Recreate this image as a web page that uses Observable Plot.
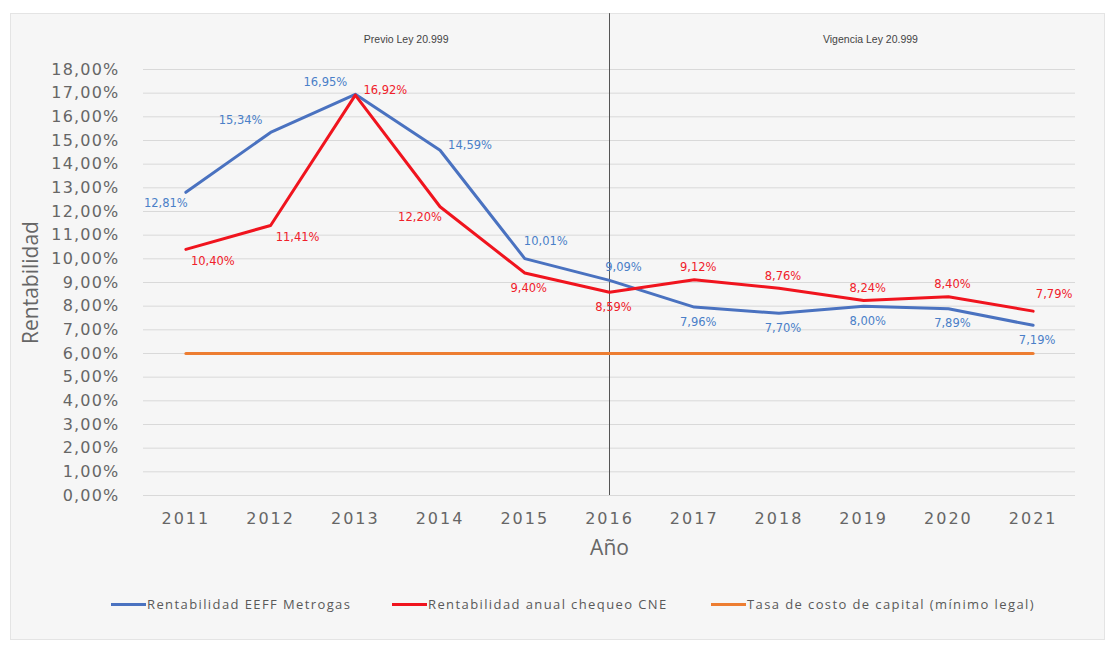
<!DOCTYPE html>
<html><head><meta charset="utf-8">
<script src="https://cdn.jsdelivr.net/npm/d3@7"></script>
<script src="https://cdn.jsdelivr.net/npm/@observablehq/plot@0.6"></script>
<style>
body{margin:0;background:#fff;font-family:"Open Sans",sans-serif;}
#panel{position:absolute;left:10px;top:13px;width:1095px;height:627px;background:#f6f6f6;border:1px solid #e4e4e4;box-sizing:border-box;}
#chart{position:absolute;left:0;top:0;}
#chart g[aria-label="y-axis tick label"] text{letter-spacing:1.2px;}
#chart g[aria-label="x-axis tick label"] text{letter-spacing:2px;}
#legend{position:absolute;top:594px;left:0;width:1114px;height:20px;}
.item{position:absolute;top:0;display:flex;align-items:center;height:20px;color:#595959;font-size:13px;letter-spacing:1.4px;white-space:nowrap;}
.sw{display:inline-block;width:35px;height:3px;margin-right:1px;}
</style></head>
<body>
<div id="panel"></div>
<div id="chart"></div>
<div id="legend"></div>
<script>
const years = [2011, 2012, 2013, 2014, 2015, 2016, 2017, 2018, 2019, 2020, 2021];
const metrogas = [12.81, 15.34, 16.95, 14.59, 10.01, 9.09, 7.96, 7.70, 8.00, 7.89, 7.19];
const cne = [10.40, 11.41, 16.92, 12.20, 9.40, 8.59, 9.12, 8.76, 8.24, 8.40, 7.79];
const capitalRate = [6, 6, 6, 6, 6, 6, 6, 6, 6, 6, 6];
const yTicks = d3.range(0, 19, 1);
const seriesNames = ["Rentabilidad EEFF Metrogas", "Rentabilidad anual chequeo CNE", "Tasa de costo de capital (mínimo legal)"];
const periodLabels = ["Previo Ley 20.999", "Vigencia Ley 20.999"];
const splitYear = 2016;

// label placement codes (where each value label sits relative to its point)
const metrogasPlace = ["bl", "tl", "tl", "r", "tr", "tr2", "b", "b", "b", "b", "b"];
const cnePlace = ["br", "br", "r", "bl", "b", "b", "t", "t", "t", "t", "tr"];
const offsets = {
  bl: [-20, 11], tl: [-30, -12], r: [30, -5], tr: [21, -17], tr2: [14, -13],
  b: [4, 15], br: [27, 12], t: [4, -12]
};

const colors = {blue: "#4a72c0", red: "#f0141e", orange: "#ed7d31"};
const fmt = v => v.toFixed(2).replace(".", ",") + "%";

const rows = (vals, place) => years.map((y, i) => ({year: y, v: vals[i], dx: offsets[place[i]][0], dy: offsets[place[i]][1]}));
const blueRows = rows(metrogas, metrogasPlace);
const redRows = rows(cne, cnePlace);
const orangeRows = years.map((y, i) => ({year: y, v: capitalRate[i]}));

const labelMarks = (data, fill) => {
  const groups = d3.groups(data, d => d.dx + "," + d.dy);
  return groups.map(([k, g]) => Plot.text(g, {
    x: "year", y: "v", text: d => fmt(d.v), fill, dx: g[0].dx, dy: g[0].dy,
    fontSize: 11.5, fontFamily: "DejaVu Sans", letterSpacing: "0.4px"
  }));
};

const chart = Plot.plot({
  width: 1114, height: 580,
  marginLeft: 143, marginRight: 39, marginTop: 69, marginBottom: 85,
  style: {background: "transparent", fontFamily: "DejaVu Sans", color: "#666"},
  x: {domain: [2010.5, 2021.5], ticks: years, tickFormat: d => String(d)},
  y: {domain: [0, 18], ticks: yTicks, tickFormat: fmt},
  marks: [
    Plot.ruleY(yTicks, {stroke: "#d9d9d9", strokeWidth: 1}),
    Plot.axisY({ticks: yTicks, tickFormat: fmt, tickSize: 0, tickPadding: 24, fontSize: 16, label: null, fill: "#666"}),
    Plot.axisX({ticks: years, tickFormat: d => String(d), tickSize: 0, tickPadding: 17, fontSize: 16, label: null, fill: "#666"}),
    Plot.text(["Año"], {frameAnchor: "bottom", lineAnchor: "middle", dy: 53, fontSize: 21, fill: "#666", fontFamily: "Open Sans", letterSpacing: "1px"}),
    Plot.text(["Rentabilidad"], {frameAnchor: "left", textAnchor: "middle", dx: -112, rotate: -90, fontSize: 21, fill: "#666", fontFamily: "Open Sans"}),
    Plot.ruleX([splitYear], {y1: 0, y2: 20.36, stroke: "#555", strokeWidth: 1}),
    Plot.text([{x: 2013.6, y: 19.25, t: periodLabels[0]}, {x: 2019.08, y: 19.25, t: periodLabels[1]}],
      {x: "x", y: "y", text: "t", fontSize: 10.5, fill: "#444", fontFamily: "Liberation Sans"}),
    Plot.line(orangeRows, {x: "year", y: "v", stroke: colors.orange, strokeWidth: 3}),
    Plot.line(blueRows, {x: "year", y: "v", stroke: colors.blue, strokeWidth: 3}),
    Plot.line(redRows, {x: "year", y: "v", stroke: colors.red, strokeWidth: 3}),
    ...labelMarks(blueRows, "#4a7fc8"),
    ...labelMarks(redRows, "#f0202a")
  ]
});
document.getElementById("chart").append(chart);

const legend = document.getElementById("legend");
const legendItems = [[seriesNames[0], colors.blue, 111], [seriesNames[1], colors.red, 392], [seriesNames[2], colors.orange, 711]];
for (const [name, color, left] of legendItems) {
  const d = document.createElement("div");
  d.className = "item";
  d.style.left = left + "px";
  d.innerHTML = `<span class="sw" style="background:${color}"></span><span>${name}</span>`;
  legend.append(d);
}
</script>
</body></html>
